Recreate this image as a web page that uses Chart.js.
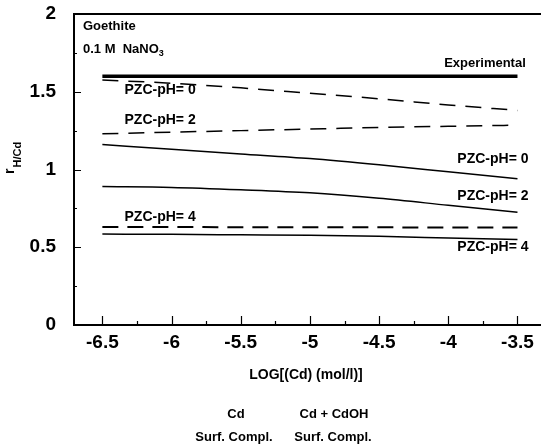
<!DOCTYPE html>
<html>
<head>
<meta charset="utf-8">
<script src="https://cdn.jsdelivr.net/npm/chart.js@4/dist/chart.umd.min.js"></script>
<style>
  html, body { margin: 0; padding: 0; background: #fff; }
  #wrap { width: 541px; height: 447px; position: relative; }
</style>
</head>
<body>
<div id="wrap"><canvas id="chart"></canvas></div>
<script>
// log of Cd concentration (mol/l)
const logCd = [-6.5, -6, -5.5, -5, -4.5, -4, -3.5];

// proton / Cd exchange ratio
const experimental = [1.6, 1.6, 1.6, 1.6, 1.6, 1.6, 1.6];
// Cd surface complex only (dashed)
const cdPzc0 = [1.575, 1.555, 1.525, 1.49, 1.455, 1.415, 1.38];
const cdPzc2 = [1.23, 1.24, 1.25, 1.26, 1.27, 1.278, 1.285];
const cdPzc4 = [0.63, 0.63, 0.629, 0.628, 0.628, 0.627, 0.627];
// Cd + CdOH surface complexes (solid)
const cdOhPzc0 = [1.16, 1.13, 1.1, 1.07, 1.03, 0.985, 0.94];
const cdOhPzc2 = [0.89, 0.885, 0.87, 0.85, 0.815, 0.77, 0.725];
const cdOhPzc4 = [0.585, 0.583, 0.58, 0.577, 0.57, 0.56, 0.55];

const xTicks = [-6.5, -6, -5.5, -5, -4.5, -4, -3.5];
const xMinor = [-6.25, -5.75, -5.25, -4.75, -4.25, -3.75];
const yTicks = [0, 0.5, 1, 1.5, 2];
const yMinor = [0.25, 0.75, 1.25, 1.75];

const pts = ys => logCd.map((x, i) => ({ x, y: ys[i] }));

function series(ys, width, dash) {
  return {
    data: pts(ys),
    borderColor: '#000',
    borderWidth: width,
    borderDash: dash || [],
    pointRadius: 0,
    cubicInterpolationMode: 'monotone',
    fill: false
  };
}

const FONT = '"Liberation Sans", Arial, sans-serif';

// tick marks (inside), top frame line and all text drawn on the canvas
const extras = {
  id: 'extras',
  afterDraw(chart) {
    const { ctx, chartArea: a, scales: { x, y } } = chart;
    ctx.save();
    ctx.strokeStyle = '#000';
    ctx.fillStyle = '#000';

    // top frame
    ctx.lineWidth = 2;
    ctx.beginPath();
    ctx.moveTo(a.left - 1, a.top);
    ctx.lineTo(a.right, a.top);
    ctx.stroke();

    ctx.lineWidth = 1.2;
    ctx.beginPath();
    xTicks.forEach(v => { const px = Math.round(x.getPixelForValue(v)) + 0.5; ctx.moveTo(px, a.bottom); ctx.lineTo(px, a.bottom - 9); });
    xMinor.forEach(v => { const px = Math.round(x.getPixelForValue(v)) + 0.5; ctx.moveTo(px, a.bottom); ctx.lineTo(px, a.bottom - 4); });
    yTicks.forEach(v => { const py = Math.round(y.getPixelForValue(v)) + 0.5; ctx.moveTo(a.left, py); ctx.lineTo(a.left + 7, py); });
    yMinor.forEach(v => { const py = Math.round(y.getPixelForValue(v)) + 0.5; ctx.moveTo(a.left, py); ctx.lineTo(a.left + 3, py); });
    ctx.stroke();

    // curve labels, placed in data coordinates
    const labels = [
      ['Experimental', -3.44, 1.68, 'right', 13],
      ['PZC-pH= 0', -6.34, 1.51, 'left', 14],
      ['PZC-pH= 2', -6.34, 1.315, 'left', 14],
      ['PZC-pH= 4', -6.34, 0.695, 'left', 14],
      ['PZC-pH= 0', -3.42, 1.065, 'right', 14],
      ['PZC-pH= 2', -3.42, 0.83, 'right', 14],
      ['PZC-pH= 4', -3.42, 0.5, 'right', 14]
    ];
    ctx.textBaseline = 'middle';
    labels.forEach(([t, vx, vy, align, size]) => {
      ctx.font = `bold ${size}px ${FONT}`;
      ctx.textAlign = align;
      ctx.fillText(t, x.getPixelForValue(vx), y.getPixelForValue(vy));
    });

    // sample description
    ctx.textAlign = 'left';
    ctx.font = `bold 13px ${FONT}`;
    ctx.fillText('Goethite', 83, 26);
    const base = '0.1 M  NaNO';
    ctx.fillText(base, 83, 49);
    const w = ctx.measureText(base).width;
    ctx.font = `bold 9px ${FONT}`;
    ctx.fillText('3', 83 + w, 54);

    // y title r_H/Cd, rotated
    ctx.save();
    ctx.translate(14, 174);
    ctx.rotate(-Math.PI / 2);
    ctx.textBaseline = 'alphabetic';
    ctx.font = `bold 14px ${FONT}`;
    ctx.fillText('r', 0, 0);
    const rw = ctx.measureText('r').width;
    ctx.font = `bold 11px ${FONT}`;
    ctx.fillText('H/Cd', rw + 1, 7);
    ctx.restore();

    // x title and footer
    ctx.textAlign = 'center';
    ctx.font = `bold 14px ${FONT}`;
    ctx.fillText('LOG[(Cd) (mol/l)]', 306, 375);
    ctx.font = `bold 13px ${FONT}`;
    ctx.fillText('Cd', 236, 414);
    ctx.fillText('Cd + CdOH', 334, 414);
    ctx.fillText('Surf. Compl.', 234, 437);
    ctx.fillText('Surf. Compl.', 333, 437);

    ctx.restore();
  }
};

new Chart(document.getElementById('chart'), {
  type: 'line',
  data: {
    datasets: [
      series(experimental, 3.5),
      series(cdPzc0, 1.5, [16, 10]),
      series(cdPzc2, 1.5, [16, 10]),
      series(cdPzc4, 2, [16, 9]),
      series(cdOhPzc0, 1.5),
      series(cdOhPzc2, 1.5),
      series(cdOhPzc4, 1.5)
    ]
  },
  options: {
    responsive: true,
    maintainAspectRatio: false,
    animation: false,
    events: [],
    layout: { padding: { top: 14, right: 0, left: 0, bottom: 0 } },
    plugins: { legend: { display: false }, tooltip: { enabled: false } },
    scales: {
      x: {
        type: 'linear',
        min: -6.705,
        max: -3.33,
        afterBuildTicks: s => { s.ticks = xTicks.map(value => ({ value })); },
        afterFit: s => { s.height = 122; s.paddingLeft = 0; s.paddingRight = 0; },
        grid: { display: false },
        border: { display: true, color: '#000', width: 2 },
        ticks: {
          color: '#000',
          padding: -2,
          maxRotation: 0,
          font: { family: FONT, size: 19, weight: 'bold' },
          callback: v => String(v)
        }
      },
      y: {
        min: 0,
        max: 2,
        afterBuildTicks: s => { s.ticks = yTicks.map(value => ({ value })); },
        afterFit: s => { s.width = 74; s.paddingTop = 0; s.paddingBottom = 0; },
        grid: { display: false },
        border: { display: true, color: '#000', width: 2 },
        ticks: {
          color: '#000',
          padding: 10,
          font: { family: FONT, size: 19, weight: 'bold' },
          callback: v => String(v)
        }
      }
    }
  },
  plugins: [extras]
});
</script>
</body>
</html>
